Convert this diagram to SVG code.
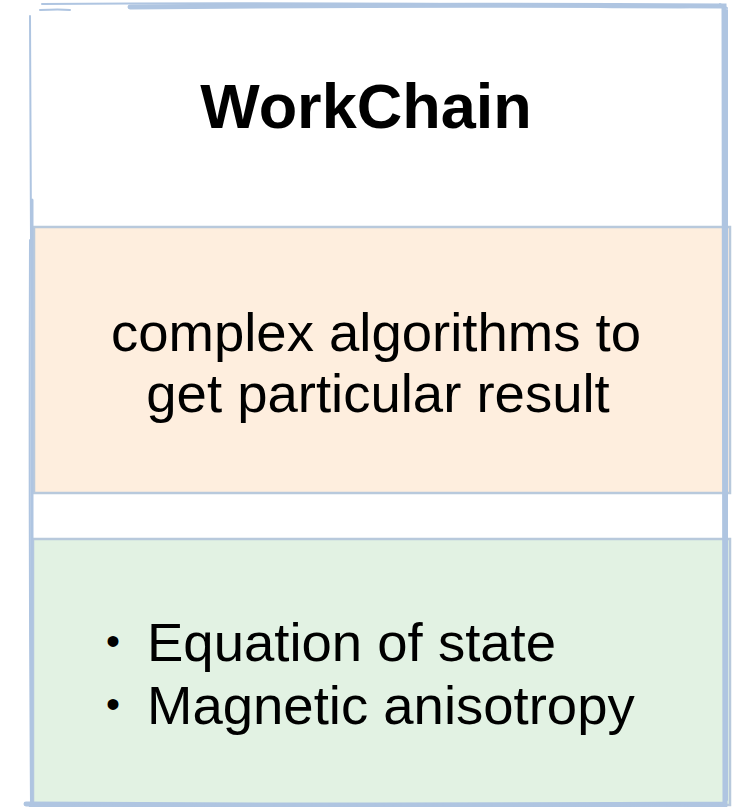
<svg xmlns="http://www.w3.org/2000/svg" width="741" height="807" viewBox="0 0 741 807">
  <style>
    .frame { fill: none; stroke: #afc5e1; stroke-linecap: round; }
    .sec { stroke: #b8c9dc; stroke-width: 2.5; }
    .title { font-family: "Liberation Sans", Arial, sans-serif; font-weight: bold; font-size: 63px; fill: #000; }
    .txt { font-family: "Liberation Sans", Arial, sans-serif; font-size: 54.5px; fill: #000; }
    .bul { font-family: "Liberation Sans", Arial, sans-serif; font-size: 40px; fill: #000; }
  </style>
  <rect width="741" height="807" fill="#ffffff"/>
  <g id="workchain">
    <rect x="30" y="6" width="694" height="798" fill="#ffffff"/>
    <text class="title" x="366" y="128" text-anchor="middle">WorkChain</text>
  </g>
  <g id="algorithms">
    <rect class="sec" x="34" y="227" width="696" height="266" fill="#feeede"/>
    <text class="txt" x="376" y="351" text-anchor="middle">complex algorithms to</text>
    <text class="txt" x="378" y="412" text-anchor="middle">get particular result</text>
  </g>
  <g id="examples">
    <rect class="sec" x="33" y="539" width="697" height="266" fill="#e2f2e3"/>
    <text class="bul" x="106" y="655">•</text>
    <text class="txt" x="147" y="661">Equation of state</text>
    <text class="bul" x="106" y="718">•</text>
    <text class="txt" x="147" y="724">Magnetic anisotropy</text>
  </g>
  <g id="sketch-frame">
    <path class="frame" stroke-width="5" d="M130 7 Q400 4 724 6 L725 804 Q380 806 26 804"/>
    <path class="frame" stroke-width="2" d="M42 4 Q250 2 600 5 M40 10 Q60 9 70 10 M30 16 L31 240 M30 240 Q29 520 31 804"/>
    <path class="frame" stroke-width="3" d="M32 200 Q31 500 32 804"/>
    <path class="frame" stroke-width="2" d="M727 10 Q726 400 727 800 M720 4 L727 8 M600 7 Q680 8 722 6"/>
    <path class="frame" stroke-width="2.5" d="M30 806 Q400 803 726 806"/>
  </g>
</svg>
